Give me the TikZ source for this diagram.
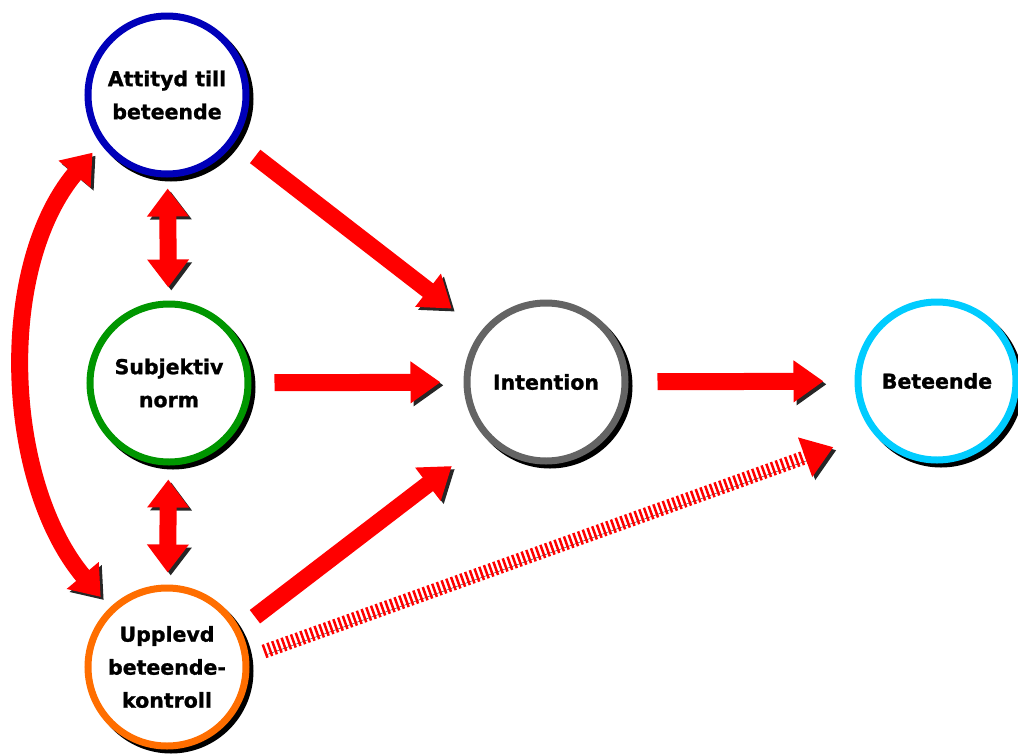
\documentclass[tikz,border=0pt]{standalone}
\usepackage{fontspec}
\setmainfont{DejaVu Sans}[BoldFeatures={FakeBold=1.2}]
\usetikzlibrary{arrows.meta}
\usetikzlibrary{positioning}
\definecolor{pilrod}{RGB}{255,0,0}
\definecolor{attblue}{RGB}{0,0,185}
\definecolor{normgreen}{RGB}{0,150,0}
\definecolor{intgray}{RGB}{100,100,100}
\definecolor{betcyan}{RGB}{0,204,255}
\definecolor{kontrollorange}{RGB}{255,110,0}

\begin{document}
\begin{tikzpicture}[line join=miter,x=1pt,y=-1pt,
  kula/.style={circle,draw=#1,line width=7pt,fill=white,minimum size=158pt,inner sep=0pt,align=center,
    font=\bfseries\fontsize{20.5}{33}\selectfont,
    preaction={draw=black,fill=black,transform canvas={shift={(4pt,-4pt)}}}},
  pil/.style={draw=pilrod,line width=17pt,-{Triangle[width=40pt,length=30pt]},
    preaction={draw=black!85,transform canvas={shift={(3pt,-3pt)}}}},
  dubbelpil/.style={pil,{Triangle[width=40pt,length=28pt]}-{Triangle[width=40pt,length=28pt]}},
  streckpil/.style={pil,line width=14pt,dash pattern=on 2.5pt off 2.5pt}]
\useasboundingbox (0,0) rectangle (1018,753);
% cirklarna
\node[kula=attblue] (att) at (167,95) {Attityd till\\beteende};
\node[kula=normgreen] (subj) at (169,383) {Subjektiv\\norm};
\node[kula=kontrollorange] (upp) at (167,667) {Upplevd\\beteende-\\kontroll};
\node[kula=intgray] (int) at (546,382) {Intention};
\node[kula=betcyan] (bet) at (937,381) {Beteende};
% pilarna
\draw[pil,shorten <=25pt,shorten >=37pt] (att.-34) -- (int.142);
\draw[pil,shorten <=23pt,shorten >=23pt] (subj) -- (int);
\draw[pil,shorten <=29pt,shorten >=31pt] (int) -- (bet);
\draw[pil,shorten <=19pt,shorten >=44pt] (upp.28) -- (int.224);
\draw[streckpil,shorten <=16pt,shorten >=42pt] (upp.7) -- (bet.219);
\draw[dubbelpil,shorten <=11pt,shorten >=13pt] (att) -- (subj);
\draw[dubbelpil,shorten <=14pt,shorten >=12pt] (subj) -- (upp);
\draw[dubbelpil,shorten <=12pt,shorten >=14pt] (att.216) to[out=230,in=130,looseness=0.9] (upp.134);
\end{tikzpicture}
\end{document}
